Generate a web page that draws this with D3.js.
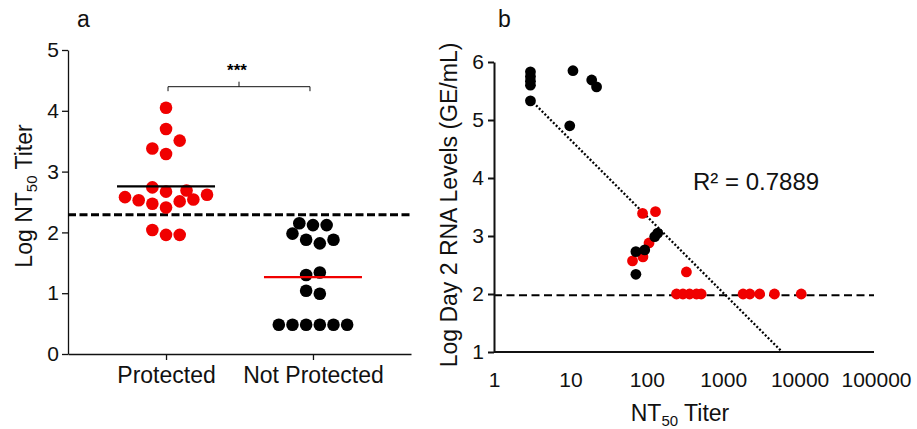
<!doctype html>
<html>
<head>
  <meta charset="utf-8">
  <script src="https://cdn.jsdelivr.net/npm/d3@7"></script>
  <style>
    body { margin: 0; background: #fff; }
    svg { display: block; font-family: "Liberation Sans", Arial, Helvetica, sans-serif; }
    .axis text { font-size: 21px; fill: #111; }
    .axis path, .axis line { stroke: #111; }
    .lbl { font-size: 23px; fill: #111; }
  </style>
</head>
<body>
<script>
  // panel a: log NT50 titer per group, slot = horizontal column in the scatter
  var groups = ["Protected", "Not Protected"];
  var protectedVals  = [4.05, 3.70, 3.51, 3.38, 3.29, 2.74, 2.67, 2.69, 2.58, 2.53, 2.62, 2.54, 2.51, 2.47, 2.41, 2.04, 1.96, 1.96];
  var protectedSlot  = [0, 0, 1, -1, 0, -1, 0, 1.5, -3, -2, 3, 2, 1, -1, 0, -1, 0, 1];
  var notProtVals    = [2.15, 2.12, 2.12, 1.98, 1.88, 1.88, 1.82, 1.34, 1.30, 1.04, 0.99, 0.48, 0.48, 0.48, 0.48, 0.48, 0.48];
  var notProtSlot    = [-1, 0, 1, -1.5, -0.5, 1.5, 0.5, 0.5, -0.5, -0.5, 0.5, -2.5, -1.5, -0.5, 0.5, 1.5, 2.5];
  var cutoffA = 2.29;
  var yTicksA = [0, 1, 2, 3, 4, 5];

  // panel b: NT50 titer vs log day 2 RNA
  var redTiter   = [88, 130, 107, 65, 89, 330, 245, 297, 363, 447, 515, 1820, 2230, 3000, 4690, 10500];
  var redRna     = [3.39, 3.42, 2.88, 2.57, 2.64, 2.38, 2.0, 2.0, 2.0, 2.0, 2.0, 2.0, 2.0, 2.0, 2.0, 2.0];
  var blackTiter = [3, 3, 3, 3, 3, 10.8, 9.8, 19, 22, 72, 94, 72, 127, 139];
  var blackRna   = [5.83, 5.75, 5.67, 5.6, 5.33, 5.85, 4.9, 5.69, 5.57, 2.73, 2.76, 2.34, 2.99, 3.05];
  var fitIntercept = 5.98, fitSlope = -1.32, fitFrom = 3;
  var cutoffB = 1.98;
  var xTicksB = [1, 10, 100, 1000, 10000, 100000];
  var yTicksB = [1, 2, 3, 4, 5, 6];
  var r2Text = "R\u00b2 = 0.7889";

  var RED = "#f00000";
  var svg = d3.select("body").append("svg").attr("width", 917).attr("height", 429);

  // ---------- panel a ----------
  var ya = d3.scaleLinear().domain([0, 5]).range([354, 50]);
  var xa = d3.scalePoint().domain(groups).range([68, 411]).padding(0.667);
  var slotW = 13.67;

  var gA = svg.append("g");
  gA.append("g").attr("class", "axis")
    .attr("transform", "translate(68,0)")
    .call(d3.axisLeft(ya).tickValues(yTicksA).tickFormat(d3.format("d")).tickSize(6).tickSizeOuter(0).tickPadding(3))
    .call(function (g) { g.selectAll("path,line").attr("stroke-width", 1.3); });
  gA.append("g").attr("class", "axis")
    .attr("transform", "translate(0,354)")
    .call(d3.axisBottom(xa).tickSize(6).tickSizeOuter(0).tickPadding(7))
    .call(function (g) {
      g.selectAll("path,line").attr("stroke-width", 1.3);
      g.selectAll("text").style("font-size", "23px");
    });

  gA.append("line")
    .attr("x1", 68).attr("x2", 411)
    .attr("y1", ya(cutoffA)).attr("y2", ya(cutoffA))
    .attr("stroke", "#000").attr("stroke-width", 3).attr("stroke-dasharray", "8,3.5");

  var ptsA = protectedVals.map(function (v, i) { return { g: groups[0], v: v, s: protectedSlot[i], c: RED }; })
    .concat(notProtVals.map(function (v, i) { return { g: groups[1], v: v, s: notProtSlot[i], c: "#000" }; }));

  gA.selectAll("circle.pa").data(ptsA).enter().append("circle")
    .attr("cx", function (d) { return xa(d.g) + d.s * slotW; })
    .attr("cy", function (d) { return ya(d.v); })
    .attr("r", 6.3)
    .attr("fill", function (d) { return d.c; });

  var means = [
    { g: groups[0], m: d3.mean(protectedVals), c: "#000" },
    { g: groups[1], m: d3.mean(notProtVals), c: RED }
  ];
  gA.selectAll("line.mean").data(means).enter().append("line")
    .attr("x1", function (d) { return xa(d.g) - 49; })
    .attr("x2", function (d) { return xa(d.g) + 49; })
    .attr("y1", function (d) { return ya(d.m); })
    .attr("y2", function (d) { return ya(d.m); })
    .attr("stroke", function (d) { return d.c; })
    .attr("stroke-width", 2.2);

  // significance bracket
  var bx1 = xa(groups[0]) + 2, bx2 = xa(groups[1]) - 3, by = 86.7, bm = (bx1 + bx2) / 2;
  gA.append("path")
    .attr("d", "M" + bx1 + "," + (by + 4.5) + "V" + by + "H" + bx2 + "V" + (by + 4.5) +
               "M" + bm + "," + by + "V" + (by - 5))
    .attr("fill", "none").attr("stroke", "#111").attr("stroke-width", 1);
  gA.append("text").attr("x", bm - 2).attr("y", 76)
    .attr("text-anchor", "middle").style("font-size", "17px").style("font-weight", "bold").text("***");

  gA.append("text").attr("class", "lbl").attr("x", 77).attr("y", 27).text("a");
  var yl = gA.append("text").attr("class", "lbl")
    .attr("transform", "translate(32,196) rotate(-90)").attr("text-anchor", "middle");
  yl.append("tspan").text("Log NT");
  yl.append("tspan").attr("dy", 5).style("font-size", "15px").text("50");
  yl.append("tspan").attr("dy", -5).text(" Titer");

  // ---------- panel b ----------
  var xb = d3.scaleLog().domain([1, 100000]).range([494, 876]);
  var yb = d3.scaleLinear().domain([1, 6]).range([352, 62]);

  var gB = svg.append("g");
  gB.append("line")
    .attr("x1", 494).attr("x2", 874)
    .attr("y1", yb(cutoffB)).attr("y2", yb(cutoffB))
    .attr("stroke", "#000").attr("stroke-width", 2).attr("stroke-dasharray", "8,4.5");

  var fitTo = Math.pow(10, (1 - fitIntercept) / fitSlope);
  gB.append("line")
    .attr("x1", xb(fitFrom)).attr("y1", yb(fitIntercept + fitSlope * Math.log10(fitFrom)))
    .attr("x2", xb(fitTo)).attr("y2", yb(1))
    .attr("stroke", "#000").attr("stroke-width", 2.3).attr("stroke-dasharray", "2,2");

  gB.selectAll("circle.red").data(redTiter).enter().append("circle")
    .attr("cx", function (d) { return xb(d); })
    .attr("cy", function (d, i) { return yb(redRna[i]); })
    .attr("r", 5.4).attr("fill", RED);
  gB.selectAll("circle.blk").data(blackTiter).enter().append("circle")
    .attr("cx", function (d) { return xb(d); })
    .attr("cy", function (d, i) { return yb(blackRna[i]); })
    .attr("r", 5.4).attr("fill", "#000");

  gB.append("g").attr("class", "axis")
    .attr("transform", "translate(494,0)")
    .call(d3.axisLeft(yb).tickValues(yTicksB).tickFormat(d3.format("d")).tickSize(6).tickSizeOuter(0).tickPadding(4))
    .call(function (g) { g.selectAll("path,line").attr("stroke-width", 2); });
  gB.append("g").attr("class", "axis")
    .attr("transform", "translate(0,352)")
    .call(d3.axisBottom(xb).tickValues(xTicksB).tickFormat(d3.format("d")).tickSize(0).tickPadding(20))
    .call(function (g) {
      g.select("path").attr("d", "M494,0H874").attr("stroke-width", 2);
      g.selectAll("line").remove();
    });

  gB.append("text").attr("class", "lbl").attr("x", 693).attr("y", 190).style("font-size", "24px").text(r2Text);
  gB.append("text").attr("class", "lbl").attr("x", 498).attr("y", 27).text("b");
  gB.append("text").attr("class", "lbl")
    .attr("transform", "translate(457,205) rotate(-90)").attr("text-anchor", "middle")
    .text("Log Day 2 RNA Levels (GE/mL)");
  var xl = gB.append("text").attr("class", "lbl").attr("x", 680).attr("y", 421).attr("text-anchor", "middle");
  xl.append("tspan").text("NT");
  xl.append("tspan").attr("dy", 5).style("font-size", "15px").text("50");
  xl.append("tspan").attr("dy", -5).text(" Titer");
</script>
</body>
</html>
